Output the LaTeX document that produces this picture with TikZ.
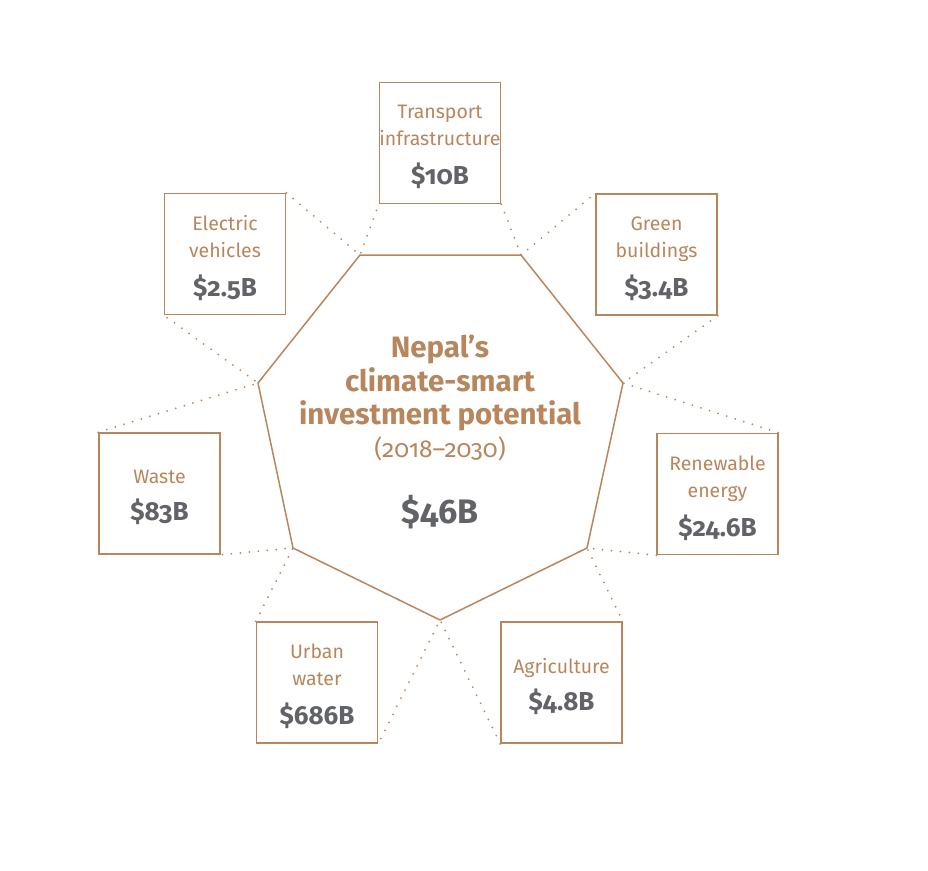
\documentclass[tikz,border=0pt]{standalone}
\usepackage{fontspec}
\setmainfont{Fira Sans}[Numbers=OldStyle]
\usepackage{xcolor}
\usetikzlibrary{positioning}
\definecolor{nepbrown}{RGB}{184,134,92}
\definecolor{valgray}{RGB}{98,99,104}
\newcommand{\amt}[1]{{\fontsize{26}{28}\selectfont\bfseries\color{valgray}#1}}

\begin{document}
\begin{tikzpicture}[x=1pt,y=-1pt,
  sector/.style={draw=nepbrown,line width=1.5pt,minimum width=121pt,minimum height=121pt,inner sep=0pt},
  lbl/.style={align=center,text=nepbrown,font=\fontsize{19.5}{27}\selectfont,yshift=-4pt},
  link/.style={draw=nepbrown,line width=2pt,line cap=round,dash pattern=on 0pt off 9pt}]
\useasboundingbox (0,0) rectangle (928,870);
% hub outline
\coordinate (v1) at (360,255);
\coordinate (v2) at (521,255);
\coordinate (v3) at (623,383);
\coordinate (v4) at (587,548);
\coordinate (v5) at (440,620);
\coordinate (v6) at (293,548);
\coordinate (v7) at (258,383);
\draw[nepbrown,line width=1.5pt,line join=round] (v1)--(v2)--(v3)--(v4)--(v5)--(v6)--(v7)--cycle;
\node[align=center,text=nepbrown,font=\fontsize{29.5}{33.5}\selectfont\bfseries] (hub) at (440,383) {Nepal's\\climate-smart\\investment potential};
\node[below=-1pt of hub,text=nepbrown,font=\fontsize{24.5}{28}\selectfont] (yrs) {(2018--2030)};
\node[below=27pt of yrs,text=valgray,font=\fontsize{34}{38}\selectfont\bfseries] (tot) {\$46B};
% sectors
\node[sector,label={[lbl]center:{Transport\\infrastructure\\[12pt]\amt{\$10B}}}] (tr) at (440,143) {};
\node[sector,label={[lbl]center:{Green\\buildings\\[12pt]\amt{\$3.4B}}}] (gb) at (656.5,254.5) {};
\node[sector,label={[lbl]center:{Renewable\\energy\\[12pt]\amt{\$24.6B}}}] (re) at (717.5,494) {};
\node[sector,label={[lbl]center:{Agriculture\\[10pt]\amt{\$4.8B}}}] (ag) at (561.5,682.5) {};
\node[sector,label={[lbl]center:{Urban\\water\\[12pt]\amt{\$686B}}}] (uw) at (317,682.5) {};
\node[sector,label={[lbl]center:{Waste\\[10pt]\amt{\$83B}}}] (ws) at (159.5,493.5) {};
\node[sector,label={[lbl]center:{Electric\\vehicles\\[12pt]\amt{\$2.5B}}}] (ev) at (225,254) {};
% dotted links
\draw[link] (ev.north east)--(v1)--(tr.south west);
\draw[link] (tr.south east)--(v2)--(gb.north west);
\draw[link] (gb.south east)--(v3)--(re.north east);
\draw[link] (re.south west)--(v4)--(ag.north east);
\draw[link] (ag.south west)--(v5)--(uw.south east);
\draw[link] (uw.north west)--(v6)--(ws.south east);
\draw[link] (ws.north west)--(v7)--(ev.south west);
\end{tikzpicture}
\end{document}
